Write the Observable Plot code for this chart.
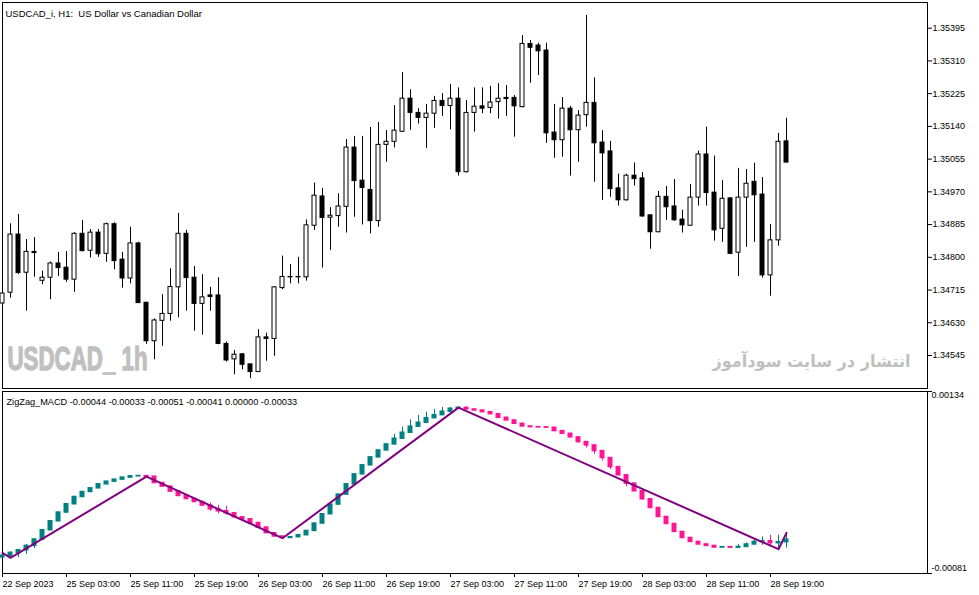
<!DOCTYPE html>
<html><head><meta charset="utf-8">
<script src="https://cdn.jsdelivr.net/npm/d3@7"></script>
<script src="https://cdn.jsdelivr.net/npm/@observablehq/plot@0.6"></script>
<style>
html,body{margin:0;padding:0;background:#fff;}
#chart{position:relative;width:979px;height:595px;overflow:hidden;background:#fff;}
#chart svg{position:absolute;left:0;}
</style></head><body><div id="chart"></div>
<script>
// ---- price candles (USDCAD H1), bar index 0 = 22 Sep 2023 19:00 ----
const opens = [1.34680,1.34708,1.34859,1.34760,1.34814,1.34739,1.34747,1.34784,1.34773,1.34742,
1.34861,1.34817,1.34864,1.34809,1.34886,1.34794,1.34745,1.34836,1.34682,1.34582,
1.34635,1.34653,1.34722,1.34861,1.34747,1.34679,1.34701,1.34701,1.34575,1.34535,
1.34548,1.34522,1.34502,1.34592,1.34588,1.34720,1.34748,1.34748,1.34748,1.34882,
1.34958,1.34903,1.34907,1.34931,1.35085,1.34999,1.34975,1.34894,1.35092,1.35100,
1.35126,1.35212,1.35175,1.35162,1.35173,1.35206,1.35193,1.35212,1.35021,1.35175,
1.35192,1.35188,1.35203,1.35214,1.35214,1.35190,1.35354,1.35350,1.35337,1.35124,
1.35104,1.35186,1.35130,1.35169,1.35201,1.35098,1.35075,1.34979,1.34948,1.35012,
1.35005,1.34909,1.34865,1.34957,1.34932,1.34898,1.34882,1.34955,1.35067,1.34968,
1.34874,1.34953,1.34812,1.34955,1.34996,1.34963,1.34753,1.34844,1.35101];
const highs = [1.34711,1.34887,1.34911,1.34846,1.34851,1.34764,1.34788,1.34813,1.34815,1.34864,
1.34896,1.34872,1.34872,1.34889,1.34890,1.34813,1.34878,1.34839,1.34683,1.34640,
1.34703,1.34770,1.34914,1.34870,1.34776,1.34755,1.34722,1.34747,1.34580,1.34558,
1.34550,1.34522,1.34612,1.34603,1.34724,1.34803,1.34781,1.34800,1.34897,1.34993,
1.34979,1.34929,1.34965,1.35106,1.35114,1.35114,1.35137,1.35150,1.35129,1.35194,
1.35280,1.35235,1.35186,1.35197,1.35218,1.35225,1.35249,1.35240,1.35207,1.35240,
1.35240,1.35244,1.35251,1.35246,1.35220,1.35376,1.35363,1.35356,1.35356,1.35197,
1.35215,1.35192,1.35181,1.35428,1.35266,1.35129,1.35101,1.35016,1.35016,1.35045,
1.35020,1.34910,1.34971,1.34984,1.35002,1.34922,1.34989,1.35076,1.35138,1.35063,
1.34999,1.34955,1.35031,1.35028,1.35044,1.35007,1.34885,1.35122,1.35161];
const lows = [1.34675,1.34694,1.34755,1.34660,1.34748,1.34729,1.34690,1.34750,1.34735,1.34709,
1.34814,1.34798,1.34800,1.34787,1.34768,1.34720,1.34731,1.34680,1.34574,1.34534,
1.34569,1.34634,1.34643,1.34660,1.34608,1.34598,1.34660,1.34573,1.34528,1.34495,
1.34508,1.34485,1.34501,1.34530,1.34543,1.34716,1.34731,1.34731,1.34738,1.34870,
1.34772,1.34818,1.34878,1.34863,1.34904,1.34884,1.34861,1.34878,1.35047,1.35084,
1.35124,1.35130,1.35146,1.35083,1.35135,1.35166,1.35131,1.35011,1.35019,1.35125,
1.35173,1.35173,1.35159,1.35166,1.35112,1.35188,1.35252,1.35272,1.35096,1.35057,
1.35060,1.35011,1.35047,1.35138,1.34995,1.34948,1.34956,1.34933,1.34946,1.34985,
1.34904,1.34821,1.34864,1.34896,1.34894,1.34863,1.34881,1.34933,1.34933,1.34842,
1.34839,1.34807,1.34750,1.34826,1.34839,1.34746,1.34699,1.34829,1.35045];
const closes = [1.34706,1.34859,1.34759,1.34814,1.34811,1.34747,1.34784,1.34772,1.34742,1.34861,
1.34816,1.34864,1.34808,1.34886,1.34790,1.34745,1.34836,1.34681,1.34582,1.34636,
1.34653,1.34723,1.34861,1.34746,1.34679,1.34696,1.34697,1.34575,1.34532,1.34547,
1.34521,1.34502,1.34592,1.34588,1.34722,1.34749,1.34749,1.34749,1.34883,1.34960,
1.34902,1.34908,1.34932,1.35085,1.34998,1.34980,1.34894,1.35092,1.35100,1.35129,
1.35212,1.35175,1.35162,1.35173,1.35206,1.35193,1.35212,1.35021,1.35175,1.35191,
1.35186,1.35202,1.35212,1.35211,1.35192,1.35354,1.35344,1.35335,1.35122,1.35104,
1.35186,1.35130,1.35168,1.35201,1.35096,1.35070,1.34977,1.34948,1.35012,1.35003,
1.34906,1.34865,1.34957,1.34930,1.34896,1.34883,1.34955,1.35067,1.34967,1.34870,
1.34952,1.34809,1.34955,1.34991,1.34961,1.34753,1.34844,1.35100,1.35046];
const priceTicks = [1.34545,1.34630,1.34715,1.34800,1.34885,1.34970,1.35055,1.35140,1.35225,1.35310,1.35395];
const priceDomain = [1.344593, 1.354617];

// ---- ZigZag_MACD sub-window ----
const macdFirstOpen = -0.000620;
const macd = [-0.000600,-0.000566,-0.000535,-0.000484,-0.000408,-0.000299,-0.000193,-0.000090,0.000008,0.000094,
0.000153,0.000196,0.000244,0.000275,0.000299,0.000323,0.000338,0.000341,0.000334,0.000259,
0.000216,0.000157,0.000106,0.000070,0.000035,-0.000008,-0.000051,-0.000075,-0.000098,-0.000146,
-0.000169,-0.000213,-0.000267,-0.000334,-0.000373,-0.000390,-0.000381,-0.000358,-0.000307,-0.000220,
-0.000110,0.000004,0.000122,0.000244,0.000361,0.000468,0.000562,0.000644,0.000715,0.000782,
0.000853,0.000924,0.000971,0.001025,0.001061,0.001101,0.001136,0.001148,0.001128,0.001116,
0.001096,0.001072,0.001030,0.000998,0.000959,0.000927,0.000919,0.000916,0.000912,0.000872,
0.000841,0.000798,0.000742,0.000703,0.000636,0.000554,0.000447,0.000350,0.000252,0.000161,
0.000067,-0.000036,-0.000142,-0.000225,-0.000319,-0.000390,-0.000437,-0.000467,-0.000484,-0.000503,
-0.000499,-0.000505,-0.000496,-0.000467,-0.000437,-0.000429,-0.000452,-0.000440,-0.000410];
const wickIdx  = [1,2,3,4,26,27,28,49,50,51,52,53,54,55,56,72,73,74,75,76,78,80,92,93,94,95,96,97,98];
const wickHigh = [-0.000555,-0.000535,-0.000467,-0.000408,0.000023,-0.000004,-0.000016,0.000833,0.000919,0.001006,0.001057,0.001096,0.001128,0.001151,0.001151,0.000798,0.000742,0.000703,0.000636,0.000554,0.000350,0.000161,-0.000467,-0.000449,-0.000397,-0.000378,-0.000358,-0.000358,-0.000330];
const wickLow  = [-0.000632,-0.000621,-0.000585,-0.000515,-0.000075,-0.000107,-0.000122,0.000715,0.000782,0.000853,0.000924,0.000971,0.001025,0.001061,0.001101,0.000730,0.000672,0.000597,0.000518,0.000417,0.000212,0.000055,-0.000514,-0.000496,-0.000467,-0.000476,-0.000496,-0.000515,-0.000510];
const zzIdx = [0,1,18,35,57,97,98];
const zzVal = [-0.000566,-0.000625,0.000334,-0.000393,0.001150,-0.000523,-0.000330];
const macdDomain = [-0.00081, 0.00134];

// ---- time axis ----
const xTickIdx = [0,8,16,24,32,40,48,56,64,72,80,88,96];
const xTickLabels = ["22 Sep 2023","25 Sep 03:00","25 Sep 11:00","25 Sep 19:00","26 Sep 03:00","26 Sep 11:00",
  "26 Sep 19:00","27 Sep 03:00","27 Sep 11:00","27 Sep 19:00","28 Sep 03:00","28 Sep 11:00","28 Sep 19:00"];

const titleText = "USDCAD_i, H1:  US Dollar vs Canadian Dollar";
const watermark = "USDCAD_ 1h";
const siteText = "انتشار در سایت سودآموز";

const TEAL = "#008080", PINK = "#FF1493", ZZ = "#800080", GREY = "#c0c0c0";
const FONT = "'Liberation Sans', Arial, sans-serif";
const fx = v => v.toFixed(5);

const candles = opens.map((o, i) => ({i, open: o, high: highs[i], low: lows[i], close: closes[i]}));
const bars = macd.map((c, i) => {
  const o = i === 0 ? macdFirstOpen : macd[i - 1];
  return {i, open: o, close: c, up: c >= o};
});
const wicks = wickIdx.map((i, k) => ({i, high: wickHigh[k], low: wickLow[k], up: bars[i].up}));
const zigzag = zzIdx.map((i, k) => ({i, v: zzVal[k]}));
const last = bars[bars.length - 1];
const lastWick = wicks[wicks.length - 1];
const paneLabel = "ZigZag_MACD " + [last.open, lastWick.high, lastWick.low, last.close, last.up ? 0 : 1, zzVal[zzVal.length - 1]].map(fx).join(" ");

const xDomain = [0, 115.625];
const common = {
  width: 979, marginLeft: 2, marginRight: 52,
  x: {domain: xDomain, axis: null, label: null},
  color: {type: "identity"},
  style: {fontFamily: FONT, fontSize: "9px", color: "black", background: "white", overflow: "visible"}
};

const topSvg = Plot.plot({
  ...common,
  height: 390, marginTop: 2, marginBottom: 2,
  y: {domain: priceDomain, axis: null, label: null},
  marks: [
    Plot.text([watermark], {frameAnchor: "bottom-left", dx: 5, dy: -18.6, textAnchor: "start",
      fontSize: 33, fontWeight: "bold", fill: GREY, stroke: GREY, strokeWidth: 1.3,
      fontFamily: "'Liberation Sans Narrow', 'Liberation Sans', sans-serif"}),
    Plot.text([siteText], {frameAnchor: "bottom-right", dx: -17, dy: -22, textAnchor: "end",
      fontSize: 17, fontWeight: "bold", fill: GREY, fontFamily: "'DejaVu Sans', sans-serif"}),
    Plot.frame({stroke: "black"}),
    Plot.ruleX(candles, {x: "i", y1: "low", y2: "high", stroke: "black", strokeWidth: 1}),
    Plot.rect(candles, {x1: d => d.i - 0.25, x2: d => d.i + 0.25, y1: "open", y2: "close",
      fill: d => d.close >= d.open ? "white" : "black", stroke: "black", strokeWidth: 1}),
    Plot.axisY(priceTicks, {anchor: "right", tickSize: 4, tickPadding: 1, tickFormat: fx, label: null, fontSize: 9}),
    Plot.text([titleText], {frameAnchor: "top-left", dx: 3, dy: 7.5, textAnchor: "start", fontSize: 9.5, fill: "black"})
  ]
});

const botSvg = Plot.plot({
  ...common,
  height: 206, marginTop: 2, marginBottom: 22,
  y: {domain: macdDomain, axis: null, label: null},
  marks: [
    Plot.frame({stroke: "black"}),
    Plot.ruleX(wicks, {x: "i", y1: "low", y2: "high", stroke: d => d.up ? TEAL : PINK, strokeWidth: 1}),
    Plot.rect(bars, {x1: d => d.i - 0.3125, x2: d => d.i + 0.3125, y1: "open", y2: "close",
      fill: d => d.up ? TEAL : PINK, insetTop: -0.75, insetBottom: -0.75}),
    Plot.line(zigzag, {x: "i", y: "v", stroke: ZZ, strokeWidth: 2}),
    Plot.axisX(xTickIdx, {anchor: "bottom", tickSize: 4, tickPadding: 3, textAnchor: "start",
      tickFormat: d => xTickLabels[xTickIdx.indexOf(d)], label: null, fontSize: 9}),
    Plot.axisY(macdDomain, {anchor: "right", tickSize: 4, tickFormat: () => "", label: null}),
    Plot.text([macdDomain[1]], {y: d => d, text: fx, frameAnchor: "right", textAnchor: "start", dx: 4, dy: 4, fontSize: 9}),
    Plot.text([macdDomain[0]], {y: d => d, text: fx, frameAnchor: "right", textAnchor: "start", dx: 4, dy: -5, fontSize: 9}),
    Plot.text([paneLabel], {frameAnchor: "top-left", dx: 4, dy: 6.5, textAnchor: "start", fontSize: 9.2, fill: "black"})
  ]
});

topSvg.style.top = "0px";
botSvg.style.top = "389px";
const chart = document.getElementById("chart");
chart.appendChild(topSvg);
chart.appendChild(botSvg);

d3.select(topSvg).selectAll("text").filter(function () { return this.textContent === watermark; })
  .attr("textLength", 140).attr("lengthAdjust", "spacingAndGlyphs");
d3.select(topSvg).selectAll("text").filter(function () { return this.textContent === siteText; })
  .attr("textLength", 198).attr("lengthAdjust", "spacingAndGlyphs");
</script>
</body></html>
